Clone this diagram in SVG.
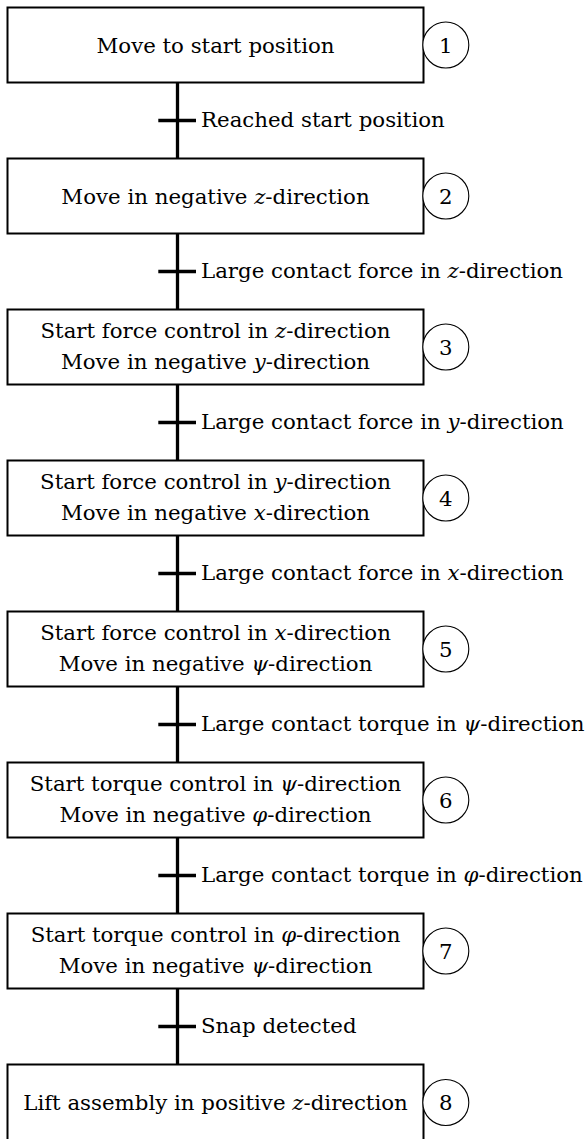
<svg xmlns="http://www.w3.org/2000/svg" width="587" height="1139" viewBox="0 0 587 1139">
<style>
.box{fill:#fff;stroke:#000;stroke-width:2}
.num{fill:#fff;stroke:#000;stroke-width:1.1}
.t{font-family:"DejaVu Serif","Liberation Serif",serif;font-size:21.3px;fill:#000}
.c{text-anchor:middle}
.v{font-style:italic}
.wire{stroke:#000;stroke-width:3.3;fill:none}
</style>
<rect width="587" height="1139" fill="#fff"/>
<g id="connectors">
<path class="wire" d="M177.5 82.5V158.5M158.3 120.5H196"/>
<path class="wire" d="M177.5 233.5V309.5M158.3 271.5H196"/>
<path class="wire" d="M177.5 384.5V460.5M158.3 422.5H196"/>
<path class="wire" d="M177.5 535.5V611.5M158.3 573.5H196"/>
<path class="wire" d="M177.5 686.5V762.5M158.3 724.5H196"/>
<path class="wire" d="M177.5 837.5V913.5M158.3 875.5H196"/>
<path class="wire" d="M177.5 988.5V1064.5M158.3 1026.5H196"/>
<text class="t" x="201" y="127">Reached start position</text>
<text class="t" x="201" y="278">Large contact force in <tspan class="v">z</tspan>-direction</text>
<text class="t" x="201" y="429">Large contact force in <tspan class="v">y</tspan>-direction</text>
<text class="t" x="201" y="580">Large contact force in <tspan class="v">x</tspan>-direction</text>
<text class="t" x="201" y="731">Large contact torque in <tspan class="v">ψ</tspan>-direction</text>
<text class="t" x="201" y="882">Large contact torque in <tspan class="v">φ</tspan>-direction</text>
<text class="t" x="201" y="1033">Snap detected</text>
</g>
<g id="step1">
<rect class="box" x="7.5" y="7.5" width="416" height="75"/>
<text class="t c" x="215.5" y="52.9">Move to start position</text>
<circle class="num" cx="445.8" cy="45" r="23"/>
<text class="t c" x="445.8" y="52.5">1</text>
</g>
<g id="step2">
<rect class="box" x="7.5" y="158.5" width="416" height="75"/>
<text class="t c" x="215.5" y="203.9">Move in negative <tspan class="v">z</tspan>-direction</text>
<circle class="num" cx="445.8" cy="196" r="23"/>
<text class="t c" x="445.8" y="203.5">2</text>
</g>
<g id="step3">
<rect class="box" x="7.5" y="309.5" width="416" height="75"/>
<text class="t c" x="215.5" y="337.8">Start force control in <tspan class="v">z</tspan>-direction</text>
<text class="t c" x="215.5" y="368.5">Move in negative <tspan class="v">y</tspan>-direction</text>
<circle class="num" cx="445.8" cy="347" r="23"/>
<text class="t c" x="445.8" y="354.5">3</text>
</g>
<g id="step4">
<rect class="box" x="7.5" y="460.5" width="416" height="75"/>
<text class="t c" x="215.5" y="488.8">Start force control in <tspan class="v">y</tspan>-direction</text>
<text class="t c" x="215.5" y="519.5">Move in negative <tspan class="v">x</tspan>-direction</text>
<circle class="num" cx="445.8" cy="498" r="23"/>
<text class="t c" x="445.8" y="505.5">4</text>
</g>
<g id="step5">
<rect class="box" x="7.5" y="611.5" width="416" height="75"/>
<text class="t c" x="215.5" y="639.8">Start force control in <tspan class="v">x</tspan>-direction</text>
<text class="t c" x="215.5" y="670.5">Move in negative <tspan class="v">ψ</tspan>-direction</text>
<circle class="num" cx="445.8" cy="649" r="23"/>
<text class="t c" x="445.8" y="656.5">5</text>
</g>
<g id="step6">
<rect class="box" x="7.5" y="762.5" width="416" height="75"/>
<text class="t c" x="215.5" y="790.8">Start torque control in <tspan class="v">ψ</tspan>-direction</text>
<text class="t c" x="215.5" y="821.5">Move in negative <tspan class="v">φ</tspan>-direction</text>
<circle class="num" cx="445.8" cy="800" r="23"/>
<text class="t c" x="445.8" y="807.5">6</text>
</g>
<g id="step7">
<rect class="box" x="7.5" y="913.5" width="416" height="75"/>
<text class="t c" x="215.5" y="941.8">Start torque control in <tspan class="v">φ</tspan>-direction</text>
<text class="t c" x="215.5" y="972.5">Move in negative <tspan class="v">ψ</tspan>-direction</text>
<circle class="num" cx="445.8" cy="951" r="23"/>
<text class="t c" x="445.8" y="958.5">7</text>
</g>
<g id="step8">
<rect class="box" x="7.5" y="1064.5" width="416" height="77"/>
<text class="t c" x="215.5" y="1109.9">Lift assembly in positive <tspan class="v">z</tspan>-direction</text>
<circle class="num" cx="445.8" cy="1102.5" r="23"/>
<text class="t c" x="445.8" y="1110">8</text>
</g>
</svg>
